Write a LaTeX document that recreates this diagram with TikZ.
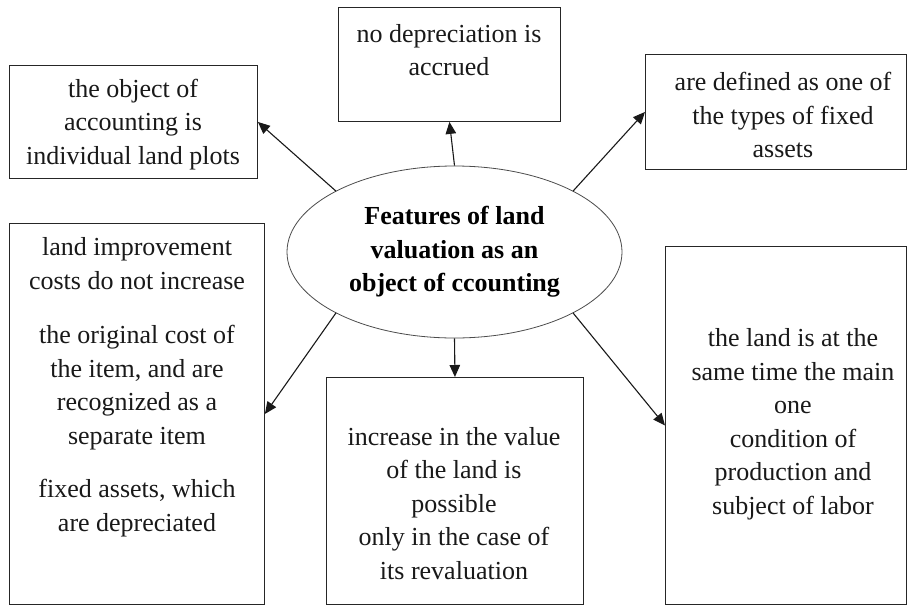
\documentclass[tikz,border=0pt]{standalone}
\usepackage{fontspec}
\setmainfont{Liberation Serif}
\usetikzlibrary{arrows.meta,shapes.geometric}
\begin{document}
\begin{tikzpicture}[x=1pt,y=-1pt,
  box/.style={draw=black!85, line width=0.9pt, inner sep=0pt, anchor=north west},
  txt/.style={align=center, inner sep=0pt, text=black!90, font=\fontsize{26}{33.5}\selectfont},
  arr/.style={-{Triangle[length=12pt,width=10.5pt]}, line width=1.1pt, black!90}]
\useasboundingbox (0,0) rectangle (907,605);
\fill[white] (0,0) rectangle (907,605);
% boxes
\node[box, minimum width=248pt, minimum height=113pt] (b1) at (9,65) {};
\node[box, minimum width=222pt, minimum height=114pt] (b2) at (338,7) {};
\node[box, minimum width=261pt, minimum height=115pt] (b3) at (645,54) {};
\node[box, minimum width=255pt, minimum height=381pt] (b4) at (9,223) {};
\node[box, minimum width=257pt, minimum height=227pt] (b5) at (326,377) {};
\node[box, minimum width=241pt, minimum height=358pt] (b6) at (665,246) {};
% central ellipse
\node[ellipse, draw=black!70, line width=0.8pt, inner sep=0pt, minimum width=335pt, minimum height=172pt,
  align=center, font=\fontsize{26}{33.5}\selectfont\bfseries] (e) at (454.5,252)
  {Features of land\\valuation as an\\object of ccounting};
% texts
\node[txt] (t1) at (133,124.5) {the object of\\accounting is\\individual land plots};
\node[txt] (t2) at (449,50) {no depreciation is\\accrued};
\node[txt] (t3) at (783,115) {are defined as one of\\the types of fixed\\assets};
\node[txt] (t4) at (137,387) {land improvement\\costs do not increase\\[21pt]the original cost of\\the item, and are\\recognized as a\\separate item\\[20pt]fixed assets, which\\are depreciated};
\node[txt] (t5) at (454,503.5) {increase in the value\\of the land is\\possible\\only in the case of\\its revaluation};
\node[txt] (t6) at (793,424) {the land is at the\\same time the main\\one\\condition of\\production and\\subject of labor};
% connector start points on the ellipse
\path (e.center) ++(135:167.5pt and 86pt) coordinate (e1);
\path (e.center) ++(45:167.5pt and 86pt) coordinate (e3);
\path (e.center) ++(225:167.5pt and 86pt) coordinate (e4);
\path (e.center) ++(315:167.5pt and 86pt) coordinate (e6);
% connectors
\draw[arr] (e1) -- (b1.east);
\draw[arr] (e.north) -- (b2.south);
\draw[arr] (e3) -- (b3.west);
\draw[arr] (e4) -- (b4.east);
\draw[arr] (e.south) -- (b5.north);
\draw[arr] (e6) -- (b6.west);
\end{tikzpicture}
\end{document}
